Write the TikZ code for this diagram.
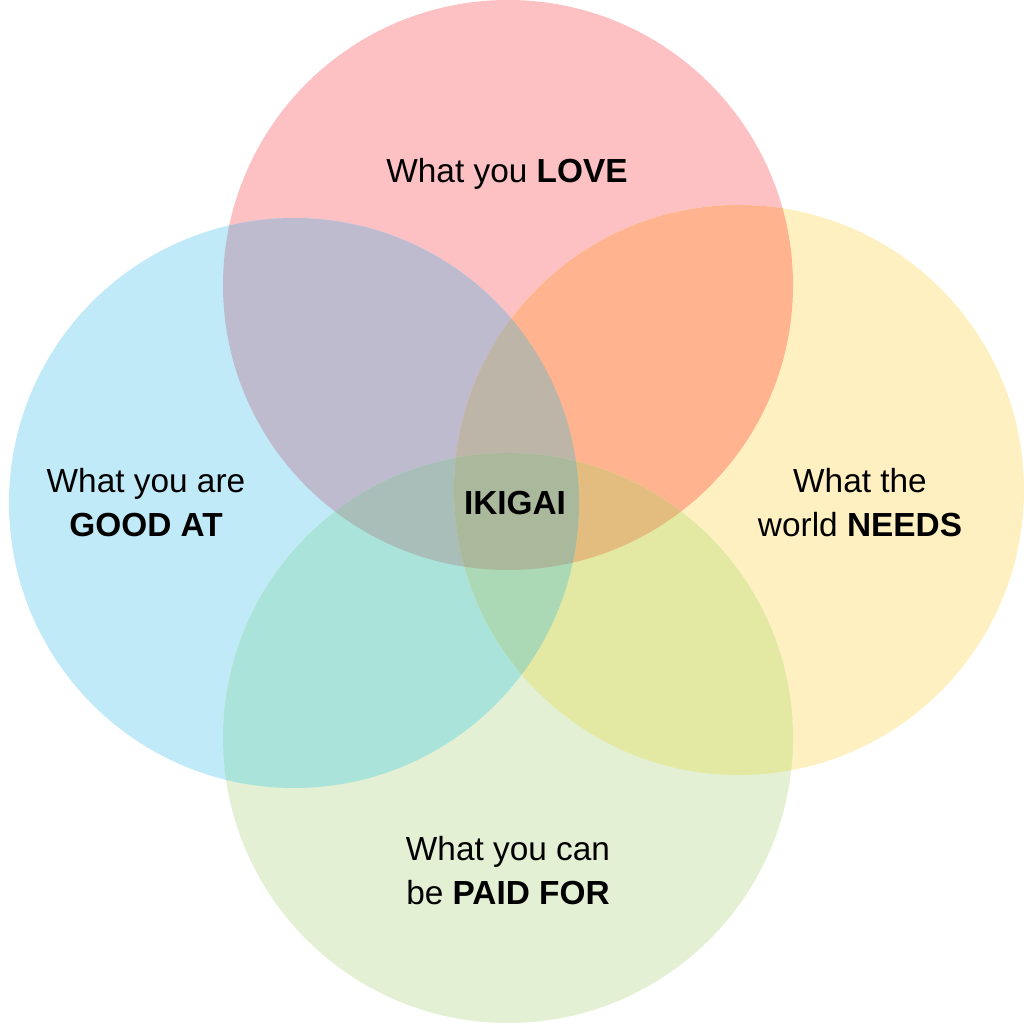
\documentclass[tikz,border=0pt]{standalone}
\usepackage{fontspec}
\setmainfont{Liberation Sans}
\definecolor{love}{HTML}{FDC0C3}
\definecolor{good}{HTML}{C1EAF9}
\definecolor{needs}{HTML}{FFF0C1}
\definecolor{paid}{HTML}{E3F0D4}
\definecolor{lovegood}{HTML}{BEBBCE}
\definecolor{loveneeds}{HTML}{FFB48F}
\definecolor{goodpaid}{HTML}{A9E3DA}
\definecolor{needspaid}{HTML}{E3E9A3}
\definecolor{topmix}{HTML}{BEB5A9}
\definecolor{leftmix}{HTML}{A9BEB9}
\definecolor{rightmix}{HTML}{E3BD80}
\definecolor{botmix}{HTML}{ABD9B5}
\definecolor{ikigai}{HTML}{AAB99C}
\begin{document}
\begin{tikzpicture}[x=0.02cm,y=-0.02cm,font=\fontsize{19}{25}\selectfont,
 txt/.style={align=center,inner sep=0pt}]
 \def\r{285} % same radius for all four
 \useasboundingbox (0,0) rectangle (1024,1023);
 \coordinate (L) at (508,285);
 \coordinate (G) at (294,503);
 \coordinate (N) at (739,490);
 \coordinate (P) at (508,738);
 \fill[love] (L) circle (\r);
 \fill[needs] (N) circle (\r);
 \fill[good] (G) circle (\r);
 \fill[paid] (P) circle (\r);
 % two circles
 \begin{scope}
  \clip (L) circle (\r);
  \fill[lovegood] (G) circle (\r);
  \fill[loveneeds] (N) circle (\r);
 \end{scope}
 \begin{scope}
  \clip (P) circle (\r);
  \fill[goodpaid] (G) circle (\r);
  \fill[needspaid] (N) circle (\r);
 \end{scope}
 % three circles
 \begin{scope}
  \clip (L) circle (\r);
  \clip (G) circle (\r);
  \fill[topmix] (N) circle (\r);
  \fill[leftmix] (P) circle (\r);
 \end{scope}
 \begin{scope}
  \clip (P) circle (\r);
  \clip (N) circle (\r);
  \fill[rightmix] (L) circle (\r);
  \fill[botmix] (G) circle (\r);
 \end{scope}
 % all four
 \begin{scope}
  \clip (L) circle (\r);
  \clip (G) circle (\r);
  \clip (N) circle (\r);
  \fill[ikigai] (P) circle (\r);
 \end{scope}
 \node[txt,anchor=base] (love) at (507,183) {What you \textbf{LOVE}};
 \node[txt] (good) at (146,503) {What you are\\\textbf{GOOD AT}};
 \node[txt] (needs) at (860,503) {What the\\world \textbf{NEEDS}};
 \node[txt] (paid) at (508,871) {What you can\\be \textbf{PAID FOR}};
 \node[txt,anchor=base] (iki) at (515,515) {\textbf{IKIGAI}};
\end{tikzpicture}
\end{document}
